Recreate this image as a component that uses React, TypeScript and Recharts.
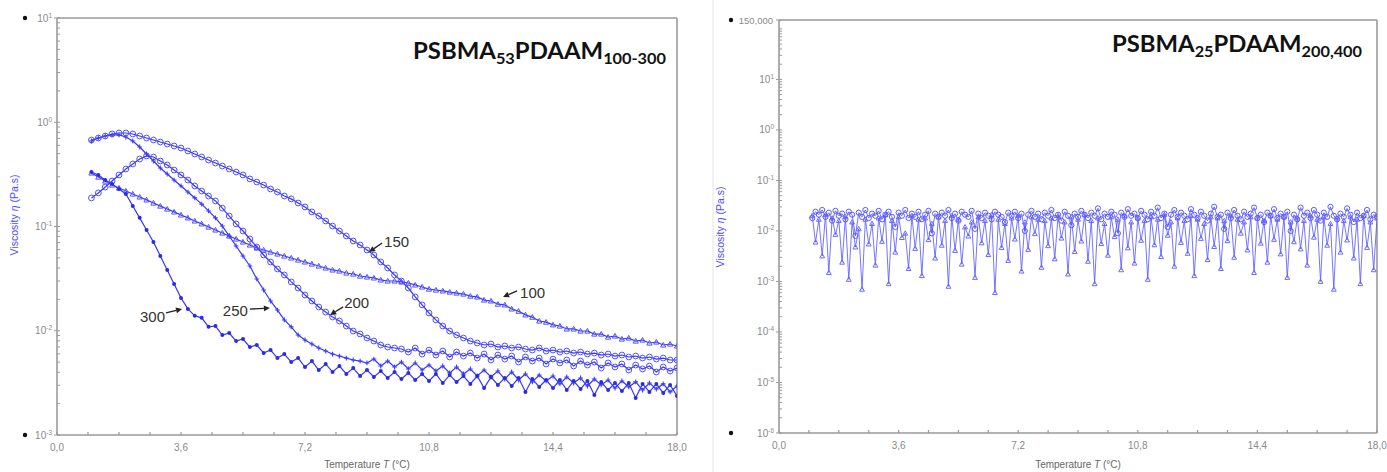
import React from "react";
import { LineChart, Line, XAxis, YAxis, ReferenceDot, ReferenceLine } from "recharts";

// temperature grid (°C) for the left panel
const tempsLeft = [
  1.0, 1.2, 1.4, 1.6, 1.8, 2.0, 2.2, 2.4, 2.6, 2.8,
  3.0, 3.2, 3.4, 3.6, 3.8, 4.0, 4.2, 4.4, 4.6, 4.8,
  5.0, 5.2, 5.4, 5.6, 5.8, 6.0, 6.2, 6.4, 6.6, 6.8,
  7.0, 7.2, 7.4, 7.6, 7.8, 8.0, 8.2, 8.4, 8.6, 8.8,
  9.0, 9.2, 9.4, 9.6, 9.8, 10.0, 10.2, 10.4, 10.6, 10.8,
  11.0, 11.2, 11.4, 11.6, 11.8, 12.0, 12.2, 12.4, 12.6, 12.8,
  13.0, 13.2, 13.4, 13.6, 13.8, 14.0, 14.2, 14.4, 14.6, 14.8,
  15.0, 15.2, 15.4, 15.6, 15.8, 16.0, 16.2, 16.4, 16.6, 16.8,
  17.0, 17.2, 17.4, 17.6, 17.8, 18.0,
];

// viscosity (Pa.s), PSBMA53-PDAAMx
const visc150 = [
  0.676, 0.706, 0.738, 0.772, 0.789, 0.789, 0.772, 0.738, 0.706, 0.676,
  0.646, 0.618, 0.592, 0.566, 0.53, 0.496, 0.464, 0.434, 0.406, 0.38,
  0.356, 0.333, 0.312, 0.286, 0.267, 0.25, 0.229, 0.214, 0.196, 0.184,
  0.168, 0.154, 0.138, 0.126, 0.113, 0.101, 0.0905, 0.0811, 0.0726, 0.0665,
  0.0595, 0.0533, 0.0457, 0.04, 0.0343, 0.03, 0.0257, 0.0211, 0.0177, 0.0148,
  0.0127, 0.0111, 0.00994, 0.0091, 0.00852, 0.00797, 0.00763, 0.0073, 0.00746, 0.00698,
  0.00714, 0.00683, 0.00698, 0.00668, 0.00653, 0.00683, 0.00639, 0.00653, 0.00625, 0.00639,
  0.00611, 0.00625, 0.00598, 0.00611, 0.00585, 0.00598, 0.00572, 0.00585, 0.0056, 0.00572,
  0.00547, 0.0056, 0.00535, 0.00547, 0.00524, 0.00524,
];
const visc100 = [
  0.326, 0.298, 0.273, 0.25, 0.234, 0.219, 0.205, 0.192, 0.18, 0.168,
  0.157, 0.147, 0.138, 0.129, 0.121, 0.113, 0.106, 0.0989, 0.0926, 0.0866,
  0.0811, 0.0759, 0.071, 0.0665, 0.0622, 0.0595, 0.0569, 0.0545, 0.0521, 0.0499,
  0.0477, 0.0457, 0.0437, 0.0418, 0.04, 0.0383, 0.0374, 0.0358, 0.035, 0.0335,
  0.0328, 0.0321, 0.0307, 0.03, 0.03, 0.0294, 0.0287, 0.0275, 0.0263, 0.0251,
  0.0246, 0.0241, 0.0235, 0.023, 0.0225, 0.0215, 0.0211, 0.0197, 0.0193, 0.018,
  0.0177, 0.0162, 0.0154, 0.0142, 0.0135, 0.0124, 0.0121, 0.0114, 0.0111, 0.0104,
  0.0104, 0.00994, 0.00994, 0.0093, 0.0093, 0.0087, 0.0089, 0.00833, 0.00852, 0.00797,
  0.00815, 0.00763, 0.0078, 0.0073, 0.00746, 0.00714,
];
const visc200 = [
  0.188, 0.21, 0.239, 0.273, 0.312, 0.356, 0.398, 0.444, 0.475, 0.464,
  0.425, 0.389, 0.348, 0.312, 0.279, 0.245, 0.219, 0.196, 0.176, 0.15,
  0.126, 0.106, 0.0905, 0.0759, 0.0636, 0.0533, 0.0457, 0.0391, 0.0343, 0.0294,
  0.0257, 0.022, 0.0193, 0.0169, 0.0151, 0.01355, 0.0124, 0.0111, 0.00994, 0.0093,
  0.00852, 0.00797, 0.0073, 0.00698, 0.00683, 0.00668, 0.00625, 0.00683, 0.00598, 0.00653,
  0.00585, 0.00639, 0.0056, 0.00625, 0.00572, 0.00611, 0.00547, 0.00598, 0.00524, 0.00585,
  0.00535, 0.00572, 0.00501, 0.0056, 0.00512, 0.00547, 0.0048, 0.00535, 0.00491, 0.00524,
  0.00459, 0.00512, 0.00469, 0.00501, 0.00439, 0.00491, 0.00449, 0.0048, 0.0042, 0.00469,
  0.0043, 0.00459, 0.00402, 0.00449, 0.00411, 0.00439,
];
const visc250 = [
  0.661, 0.706, 0.738, 0.755, 0.755, 0.722, 0.661, 0.579, 0.496, 0.425,
  0.364, 0.319, 0.279, 0.245, 0.214, 0.188, 0.164, 0.141, 0.121, 0.101,
  0.0811, 0.065, 0.0521, 0.0418, 0.0314, 0.0246, 0.0193, 0.0158, 0.0127, 0.0109,
  0.0091, 0.00815, 0.00746, 0.00683, 0.00639, 0.00598, 0.00572, 0.00547, 0.00524, 0.00512,
  0.00491, 0.00535, 0.00459, 0.00512, 0.00449, 0.00501, 0.0043, 0.00491, 0.0042, 0.00469,
  0.00411, 0.00459, 0.00394, 0.00449, 0.00385, 0.0043, 0.00368, 0.0042, 0.0036, 0.00411,
  0.00344, 0.00402, 0.00337, 0.00385, 0.00323, 0.00376, 0.0033, 0.00368, 0.00309, 0.0036,
  0.00315, 0.00352, 0.00295, 0.00344, 0.00302, 0.00337, 0.00282, 0.0033, 0.00289, 0.00323,
  0.0027, 0.00315, 0.00276, 0.00309, 0.00259, 0.00295,
];
const visc300 = [
  0.333, 0.312, 0.279, 0.256, 0.229, 0.205, 0.157, 0.121, 0.0926, 0.071,
  0.0521, 0.0383, 0.0281, 0.0206, 0.0162, 0.0139, 0.0133, 0.0109, 0.0111, 0.0091,
  0.00951, 0.00797, 0.00833, 0.00698, 0.0073, 0.00611, 0.00653, 0.00547, 0.00598, 0.00501,
  0.00547, 0.00449, 0.00512, 0.0042, 0.0048, 0.00402, 0.00459, 0.00385, 0.00439, 0.00368,
  0.0042, 0.0036, 0.00411, 0.00352, 0.00402, 0.00344, 0.00394, 0.00337, 0.00385, 0.0033,
  0.00385, 0.00315, 0.00376, 0.00323, 0.00368, 0.00309, 0.00368, 0.00282, 0.0036, 0.00302,
  0.00352, 0.00295, 0.00352, 0.00259, 0.00344, 0.00289, 0.00337, 0.00282, 0.00337, 0.0027,
  0.0033, 0.00276, 0.0033, 0.00242, 0.00323, 0.0027, 0.00315, 0.00264, 0.00315, 0.00227,
  0.00309, 0.00259, 0.00309, 0.00253, 0.00302, 0.00237,
];

// temperature grid (°C) for the right panel
const tempsRight = [
  1.0, 1.1, 1.2, 1.3, 1.4, 1.5, 1.6, 1.7, 1.8, 1.9,
  2.0, 2.1, 2.2, 2.3, 2.4, 2.5, 2.6, 2.7, 2.8, 2.9,
  3.0, 3.1, 3.2, 3.3, 3.4, 3.5, 3.6, 3.7, 3.8, 3.9,
  4.0, 4.1, 4.2, 4.3, 4.4, 4.5, 4.6, 4.7, 4.8, 4.9,
  5.0, 5.1, 5.2, 5.3, 5.4, 5.5, 5.6, 5.7, 5.8, 5.9,
  6.0, 6.1, 6.2, 6.3, 6.4, 6.5, 6.6, 6.7, 6.8, 6.9,
  7.0, 7.1, 7.2, 7.3, 7.4, 7.5, 7.6, 7.7, 7.8, 7.9,
  8.0, 8.1, 8.2, 8.3, 8.4, 8.5, 8.6, 8.7, 8.8, 8.9,
  9.0, 9.1, 9.2, 9.3, 9.4, 9.5, 9.6, 9.7, 9.8, 9.9,
  10.0, 10.1, 10.2, 10.3, 10.4, 10.5, 10.6, 10.7, 10.8, 10.9,
  11.0, 11.1, 11.2, 11.3, 11.4, 11.5, 11.6, 11.7, 11.8, 11.9,
  12.0, 12.1, 12.2, 12.3, 12.4, 12.5, 12.6, 12.7, 12.8, 12.9,
  13.0, 13.1, 13.2, 13.3, 13.4, 13.5, 13.6, 13.7, 13.8, 13.9,
  14.0, 14.1, 14.2, 14.3, 14.4, 14.5, 14.6, 14.7, 14.8, 14.9,
  15.0, 15.1, 15.2, 15.3, 15.4, 15.5, 15.6, 15.7, 15.8, 15.9,
  16.0, 16.1, 16.2, 16.3, 16.4, 16.5, 16.6, 16.7, 16.8, 16.9,
  17.0, 17.1, 17.2, 17.3, 17.4, 17.5, 17.6, 17.7, 17.8, 17.9,
  18.0,
];

// viscosity (Pa.s), PSBMA25-PDAAM200,400
const viscCircles = [
  0.018, 0.024, 0.021, 0.026, 0.019, 0.023, 0.016, 0.025, 0.02, 0.022,
  0.017, 0.024, 0.021, 0.008, 0.023, 0.019, 0.026, 0.018, 0.022, 0.02,
  0.025, 0.017, 0.021, 0.024, 0.019, 0.012, 0.023, 0.02, 0.026, 0.018,
  0.022, 0.019, 0.024, 0.017, 0.021, 0.025, 0.009, 0.022, 0.019, 0.023,
  0.02, 0.026, 0.018, 0.022, 0.016, 0.024, 0.021, 0.019, 0.025, 0.011,
  0.022, 0.018, 0.023, 0.02, 0.017, 0.024, 0.021, 0.019, 0.015, 0.023,
  0.02, 0.024, 0.018, 0.022, 0.01, 0.021, 0.025, 0.019, 0.022, 0.017,
  0.023, 0.02, 0.026, 0.018, 0.021, 0.016, 0.024, 0.02, 0.013, 0.022,
  0.019, 0.025, 0.021, 0.018, 0.023, 0.02, 0.028, 0.017, 0.022, 0.019,
  0.024, 0.021, 0.009, 0.023, 0.019, 0.027, 0.02, 0.022, 0.018, 0.025,
  0.021, 0.017, 0.024, 0.02, 0.029, 0.018, 0.022, 0.012, 0.021, 0.026,
  0.019, 0.023, 0.02, 0.017, 0.027, 0.021, 0.018, 0.024, 0.02, 0.016,
  0.022, 0.03, 0.019, 0.021, 0.011, 0.023, 0.018, 0.026, 0.02, 0.017,
  0.024, 0.019, 0.022, 0.029, 0.018, 0.021, 0.015, 0.023, 0.02, 0.027,
  0.018, 0.022, 0.019, 0.024, 0.01, 0.021, 0.017, 0.029, 0.02, 0.023,
  0.018, 0.026, 0.021, 0.016, 0.023, 0.019, 0.03, 0.02, 0.017, 0.022,
  0.019, 0.028, 0.021, 0.015, 0.023, 0.018, 0.02, 0.026, 0.017, 0.021,
  0.019,
];
const viscTriangles = [
  0.02, 0.006, 0.017, 0.0032, 0.021, 0.0015, 0.018, 0.0085, 0.016, 0.0024,
  0.019, 0.0011, 0.015, 0.0048, 0.011, 0.0007, 0.017, 0.0055, 0.014, 0.0021,
  0.018, 0.0062, 0.021, 0.0009, 0.016, 0.0038, 0.019, 0.0074, 0.009, 0.0018,
  0.02, 0.0045, 0.017, 0.0013, 0.018, 0.0067, 0.014, 0.0029, 0.019, 0.0052,
  0.016, 0.0008, 0.02, 0.0041, 0.017, 0.0022, 0.012, 0.0079, 0.015, 0.0012,
  0.019, 0.0058, 0.016, 0.0034, 0.021, 0.0006, 0.017, 0.0047, 0.014, 0.0026,
  0.018, 0.0069, 0.02, 0.0016, 0.015, 0.0043, 0.019, 0.0088, 0.017, 0.0019,
  0.016, 0.0051, 0.018, 0.0028, 0.02, 0.0072, 0.015, 0.0014, 0.019, 0.0039,
  0.017, 0.0063, 0.021, 0.0025, 0.016, 0.0009, 0.018, 0.0056, 0.014, 0.0033,
  0.019, 0.0077, 0.017, 0.0017, 0.02, 0.0046, 0.015, 0.0023, 0.018, 0.0065,
  0.016, 0.0011, 0.019, 0.0053, 0.017, 0.0031, 0.021, 0.0082, 0.015, 0.002,
  0.018, 0.0059, 0.016, 0.0036, 0.02, 0.0013, 0.017, 0.0071, 0.014, 0.0027,
  0.019, 0.0049, 0.018, 0.0018, 0.016, 0.0064, 0.02, 0.003, 0.017, 0.009,
  0.015, 0.0042, 0.019, 0.0015, 0.018, 0.0057, 0.016, 0.0024, 0.02, 0.0068,
  0.017, 0.0035, 0.019, 0.0012, 0.015, 0.0061, 0.018, 0.0044, 0.016, 0.0021,
  0.02, 0.0075, 0.017, 0.001, 0.019, 0.0052, 0.014, 0.0007, 0.018, 0.0038,
  0.016, 0.0066, 0.019, 0.0029, 0.017, 0.0009, 0.02, 0.0047, 0.015, 0.0017,
  0.018,
];

const xTicks = [0, 0.9, 1.8, 2.7, 3.6, 4.5, 5.4, 6.3, 7.2, 8.1, 9, 9.9, 10.8, 11.7, 12.6, 13.5, 14.4, 15.3, 16.2, 17.1, 18];
const xLabelled = [0, 3.6, 7.2, 10.8, 14.4, 18];

// arrow labels on the left panel: tip at (t, v)
const notes = [
  { label: "150", t: 9.06, v: 0.0569, ax: 13, ay: -9, tx: 15, ty: -5, anchor: "start" },
  { label: "100", t: 12.95, v: 0.0211, ax: 14, ay: -6, tx: 17, ty: 1, anchor: "start" },
  { label: "300", t: 3.63, v: 0.0162, ax: -16, ay: 4, tx: -17, ty: 13, anchor: "end" },
  { label: "250", t: 6.18, v: 0.0165, ax: -20, ay: 1, tx: -22, ty: 8, anchor: "end" },
  { label: "200", t: 7.93, v: 0.0142, ax: 13, ay: -8, tx: 14, ty: -7, anchor: "start" },
];

function logTicks(lo: number, hi: number, extra: number[]) {
  const out: number[] = [];
  for (let e = lo; e < hi; e++) {
    for (let m = 1; m < 10; m++) out.push(Number((m * Math.pow(10, e)).toPrecision(3)));
  }
  return out.concat(extra);
}
const leftYTicks = logTicks(-3, 1, [10]);
const rightYTicks = logTicks(-6, 2, [100, 150]);

const leftRows = tempsLeft.map((t, i) => ({
  t, s100: visc100[i], s150: visc150[i], s200: visc200[i], s250: visc250[i], s300: visc300[i],
}));
const rightRows = tempsRight.map((t, i) => ({ t, a: viscCircles[i], b: viscTriangles[i] }));

const AXIS = "#9a9a9a";
const TICKTXT = "#8a8a8a";
const FONT = "Liberation Sans, Arial, sans-serif";
const BLUE = "#3535f4";

function fmtComma(v: number) {
  return v.toFixed(1).replace(".", ",");
}

function XTick({ x, y, payload }: any) {
  const major = xLabelled.some((m) => Math.abs(m - payload.value) < 1e-6);
  return (
    <g>
      <line x1={x} x2={x} y1={y} y2={y - 3} stroke={AXIS} strokeWidth={1.2} />
      {major && (
        <text x={x} y={y + 16} textAnchor="middle" fontSize={10} fill={TICKTXT} fontFamily={FONT}>
          {fmtComma(payload.value)}
        </text>
      )}
    </g>
  );
}

function YTick({ x, y, payload, lo, hi, dotGap, topLabel }: any) {
  const v = payload.value;
  const lg = Math.log10(v);
  const decade = Math.abs(lg - Math.round(lg)) < 1e-6 && v !== 100;
  const isTop = topLabel && v === hi;
  return (
    <g>
      {decade || isTop ? (
        <line x1={x - 3} x2={x + 3} y1={y} y2={y} stroke={AXIS} strokeWidth={1} />
      ) : (
        <line x1={x} x2={x + 3} y1={y} y2={y} stroke={AXIS} strokeWidth={1} />
      )}
      {isTop ? (
        <text x={x - 6} y={y + 3.5} textAnchor="end" fontSize={9.5} fill={TICKTXT} fontFamily={FONT}>
          {topLabel}
        </text>
      ) : decade ? (
        <text x={x - 5} y={y + 3.5} textAnchor="end" fontSize={10} fill={TICKTXT} fontFamily={FONT}>
          10<tspan fontSize={6.5} dy={-4}>{Math.round(lg)}</tspan>
        </text>
      ) : null}
      {(v === lo || v === hi) && <circle cx={x - dotGap} cy={y} r={2.2} fill="#111" />}
    </g>
  );
}

const circleDot = (color: string, r: number) => (p: any) =>
  <circle key={`c${p.index}`} cx={p.cx} cy={p.cy} r={r} fill="none" stroke={color} strokeWidth={1} />;
const filledDot = (color: string, r: number) => (p: any) =>
  <circle key={`f${p.index}`} cx={p.cx} cy={p.cy} r={r} fill={color} stroke="none" />;
const triDot = (color: string, s: number) => (p: any) => (
  <polygon
    key={`t${p.index}`}
    points={`${p.cx},${p.cy - s} ${p.cx - s},${p.cy + s * 0.8} ${p.cx + s},${p.cy + s * 0.8}`}
    fill="none"
    stroke={color}
    strokeWidth={1}
  />
);
const crossDot = (color: string, s: number) => (p: any) => (
  <path
    key={`x${p.index}`}
    d={`M${p.cx - s},${p.cy}H${p.cx + s}M${p.cx},${p.cy - s}V${p.cy + s}`}
    stroke={color}
    strokeWidth={1.1}
  />
);

function Arrow({ cx, cy, note }: any) {
  const x0 = cx + note.ax;
  const y0 = cy + note.ay;
  const dx = cx - x0;
  const dy = cy - y0;
  const len = Math.sqrt(dx * dx + dy * dy);
  const ux = dx / len;
  const uy = dy / len;
  const bx = cx - ux * 6;
  const by = cy - uy * 6;
  return (
    <g>
      <line x1={x0} y1={y0} x2={bx} y2={by} stroke="#222" strokeWidth={1.3} />
      <polygon points={`${cx},${cy} ${bx - uy * 3},${by + ux * 3} ${bx + uy * 3},${by - ux * 3}`} fill="#222" />
      <text x={cx + note.tx} y={cy + note.ty} textAnchor={note.anchor} fontSize={15} fill="#333" fontFamily={FONT}>
        {note.label}
      </text>
    </g>
  );
}

export default function App() {
  const axisLine = { stroke: AXIS, strokeWidth: 1.6 };
  return (
    <div style={{ position: "absolute", left: 0, top: 0, width: 1387, height: 472, background: "#fff", overflow: "hidden" }}>
      <div style={{ position: "absolute", left: 0, top: 0 }}>
        <LineChart width={700} height={472} data={leftRows} margin={{ top: 18, right: 23, bottom: 0, left: 0 }}>
          <XAxis dataKey="t" type="number" domain={[0, 18]} ticks={xTicks} interval={0} tick={XTick}
            tickLine={false} tickSize={0} tickMargin={0} axisLine={axisLine} height={37} allowDataOverflow />
          <YAxis type="number" scale="log" domain={[0.001, 10]} ticks={leftYTicks} interval={0}
            tick={(p: any) => <YTick {...p} lo={0.001} hi={10} dotGap={32} />}
            tickLine={false} tickSize={0} tickMargin={0} axisLine={axisLine} width={57} allowDataOverflow />
          <ReferenceLine y={10} stroke={AXIS} strokeWidth={1.6} />
          <ReferenceLine x={18} stroke={AXIS} strokeWidth={1.6} />
          <Line dataKey="s100" stroke={BLUE} strokeWidth={1.2} dot={triDot("#5050ff", 2.6)} activeDot={false} isAnimationActive={false} />
          <Line dataKey="s150" stroke={BLUE} strokeWidth={1.2} dot={circleDot("#5050ff", 2.9)} activeDot={false} isAnimationActive={false} />
          <Line dataKey="s200" stroke={BLUE} strokeWidth={1.2} dot={circleDot("#5050ff", 2.9)} activeDot={false} isAnimationActive={false} />
          <Line dataKey="s250" stroke={BLUE} strokeWidth={1.2} dot={crossDot("#3c3cff", 2.4)} activeDot={false} isAnimationActive={false} />
          <Line dataKey="s300" stroke={BLUE} strokeWidth={1.2} dot={filledDot("#2b2be6", 2)} activeDot={false} isAnimationActive={false} />
          {notes.map((n) => (
            <ReferenceDot key={n.label} x={n.t} y={n.v} r={0} shape={(p: any) => <Arrow {...p} note={n} />} />
          ))}
        </LineChart>
      </div>
      <div style={{ position: "absolute", left: 700, top: 0 }}>
        <LineChart width={687} height={472} data={rightRows} margin={{ top: 20, right: 10, bottom: 0, left: 0 }}>
          <XAxis dataKey="t" type="number" domain={[0, 18]} ticks={xTicks} interval={0} tick={XTick}
            tickLine={false} tickSize={0} tickMargin={0} axisLine={axisLine} height={39} allowDataOverflow />
          <YAxis type="number" scale="log" domain={[0.000001, 150]} ticks={rightYTicks} interval={0}
            tick={(p: any) => <YTick {...p} lo={0.000001} hi={150} dotGap={48} topLabel="150,000" />}
            tickLine={false} tickSize={0} tickMargin={0} axisLine={axisLine} width={79} allowDataOverflow />
          <ReferenceLine y={150} stroke={AXIS} strokeWidth={1.6} />
          <ReferenceLine x={18} stroke={AXIS} strokeWidth={1.6} />
          <Line dataKey="b" stroke="#5252ff" strokeWidth={0.8} dot={triDot("#6a6aff", 2.4)} activeDot={false} isAnimationActive={false} />
          <Line dataKey="a" stroke="#4a4aff" strokeWidth={0.8} dot={circleDot("#5a5aff", 2.6)} activeDot={false} isAnimationActive={false} />
        </LineChart>
      </div>
      <svg width={1387} height={472} style={{ position: "absolute", left: 0, top: 0, pointerEvents: "none" }}>
        <line x1={713} x2={713} y1={0} y2={472} stroke="#e4e4e4" strokeWidth={1} />
        <text x={413} y={59} textLength={253} lengthAdjust="spacingAndGlyphs" fontFamily="Lato, sans-serif" fontWeight={700} fontSize={22} fill="#111">
          PSBMA<tspan fontSize={15} dy={5}>53</tspan><tspan dy={-5}>PDAAM</tspan><tspan fontSize={15} dy={5}>100-300</tspan>
        </text>
        <text x={1112} y={52} textLength={250} lengthAdjust="spacingAndGlyphs" fontFamily="Lato, sans-serif" fontWeight={700} fontSize={22} fill="#111">
          PSBMA<tspan fontSize={15} dy={5}>25</tspan><tspan dy={-5}>PDAAM</tspan><tspan fontSize={15} dy={5}>200,400</tspan>
        </text>
        <text transform="translate(18,215) rotate(-90)" textAnchor="middle" fontSize={10.5} fill="#4d4dff" fontFamily={FONT}>
          Viscosity <tspan fontStyle="italic">η</tspan> (Pa.s)
        </text>
        <text transform="translate(724,227) rotate(-90)" textAnchor="middle" fontSize={10.5} fill="#4d4dff" fontFamily={FONT}>
          Viscosity <tspan fontStyle="italic">η</tspan> (Pa.s)
        </text>
        <text x={367} y={468} textAnchor="middle" fontSize={10} fill="#666" fontFamily={FONT}>
          Temperature <tspan fontStyle="italic">T</tspan> (°C)
        </text>
        <text x={1078} y={468} textAnchor="middle" fontSize={10} fill="#666" fontFamily={FONT}>
          Temperature <tspan fontStyle="italic">T</tspan> (°C)
        </text>
      </svg>
    </div>
  );
}
